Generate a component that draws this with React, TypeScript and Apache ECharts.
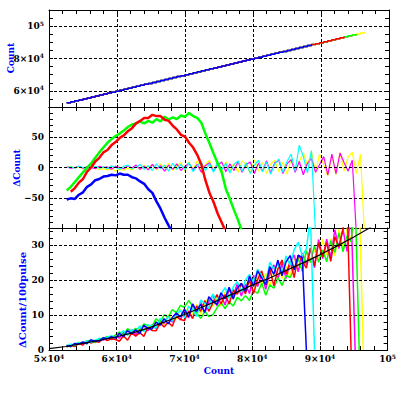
import React, { useEffect, useRef } from 'react';
import * as echarts from 'echarts';

// Shared Count sampling (x) used by all coloured runs
const xGrid = [
  52600, 53200, 53800, 54400, 55000, 55600, 56200, 56800, 57400, 58000,
  58600, 59200, 59800, 60400, 61000, 61600, 62200, 62800, 63400, 64000,
  64600, 65200, 65800, 66400, 67000, 67600, 68200, 68800, 69400, 70000,
  70600, 71200, 71800, 72400, 73000, 73600, 74200, 74800, 75400, 76000,
  76600, 77200, 77800, 78400, 79000, 79600, 80200, 80800, 81400, 82000,
  82600, 83200, 83800, 84400, 85000, 85600, 86200, 86800, 87400, 88000,
  88600, 89200, 89800, 90400, 91000, 91600, 92200, 92800, 93400, 94000,
  94600, 95200, 95800, 96400,
];

// Top panel: number of Count samples covered by each run
const topLenBlue = 61;
const topLenCyan = 61;
const topLenRed = 69;
const topLenMagenta = 71;
const topLenGreen = 72;
const topLenYellow = 74;

// Middle panel: ΔCount
const dBlue = [-53, -51, -52, -45, -41, -32, -28, -21, -19, -15, -14, -12, -13, -10, -12, -12, -16, -18, -23, -27, -36, -42, -56, -68, -83, -96, -108];
const dRed = [null, -40, -34, -25, -19, -7, 0, 10, 16, 25, 29, 37, 42, 49, 53, 60, 65, 73, 77, 82, 82, 87, 85, 85, 79, 77, 69, 63, 54, 51, 41, 33, 21, 5, -21, -42, -57, -76, -91, -106];
const dGreen = [-38, -32, -24, -16, -8, 0, 7, 16, 25, 33, 41, 47, 52, 56, 61, 67, 71, 73, 76, 73, 77, 74, 80, 76, 84, 79, 83, 80, 86, 84, 90, 85, 82, 74, 56, 40, 23, 7, -8, -35, -52, -70, -87, -106];
const dCyan = [
  0, 1, -1, 2, 0, -2, 1, 2, -1, 1,
  -2, 3, 0, -3, 2, 4, -2, 1, 5, -3,
  3, -5, 6, -2, 4, -6, 7, -3, 5, -4,
  8, -7, 3, 9, -5, 6, -8, 10, -4, 7,
  -9, 5, 11, -6, 8, -10, 4, 12, -7, 9,
  -11, 6, 14, -8, 10, 22, -6, 37, 18, -9,
  28, -110,
];
const dMagenta = [
  1, -1, 0, 2, -1, 1, 0, -2, 2, 0,
  1, -3, 2, 0, -2, 3, -1, 4, -3, 2,
  -4, 5, -2, 3, -6, 4, -3, 6, -5, 2,
  7, -4, 5, -8, 3, 8, -6, 4, 9, -7,
  6, -5, 10, -8, 5, 9, -10, 7, -6, 11,
  -9, 8, 12, -10, 6, 13, -8, 10, -12, 7,
  15, -8, 5, 18, -12, 22, -10, 24, 8, -6,
  12, -110,
];
const dYellow = [
  0, 2, -1, 1, -2, 0, 3, -1, -3, -2,
  -4, -2, -6, -3, -5, -1, -4, 2, -3, 4,
  -2, 5, -4, 6, -1, 7, -5, 3, 8, -6,
  9, -3, 11, -7, 5, 12, -4, 8, -9, 10,
  -5, 7, -8, 11, 4, -9, 13, -6, 8, -10,
  6, 12, -7, 9, -11, 14, -5, 10, 25, 3,
  26, -8, 22, 5, -14, 20, -12, 24, -6, 18,
  25, -10, 22, -110,
];

// Bottom panel: ΔCount/100pulse
const bBlue = [
  1.3, 1.0, 1.9, 1.7, 2.3, 1.8, 2.9, 2.6, 2.6, 3.5, 3.2, 3.8, 3.4,
  4.8, 3.8, 5.6, 4.7, 5.8, 4.7, 7.1, 6.2, 6.0, 8.0, 7.1, 9.0, 7.5, 9.3, 10.6, 9.5,
  11.7, 9.5, 13.2, 11.1, 13.1, 10.8, 15.3, 13.9, 13.1, 16.4, 14.7, 18.0, 14.6, 17.8, 19.1, 16.8,
  21.2, 18.2, 22.7, 20.7, 18.7, 23.9, 21.7, 25.8, 21.3, 25.3, 27.1, 23.0, 27.2, 26.5,
  0,
];
const bRed = [
  0.8, 1.5, 1.0, 1.9, 1.4, 2.7, 2.0, 2.5, 2.2, 3.4, 2.7, 3.2, 3.0,
  2.5, 4.1, 2.8, 4.9, 4.0, 5.0, 3.9, 6.5, 5.6, 5.5, 7.7, 6.6, 8.0, 6.8, 9.8, 8.8,
  8.4, 11.2, 9.0, 12.6, 11.1, 14.2, 11.1, 13.6, 15.9, 13.2, 15.9, 13.2, 17.3, 16.0, 19.1, 16.1,
  20.2, 16.2, 20.2, 22.7, 18.7, 23.2, 18.4, 23.3, 25.8, 21.8, 25.3, 20.8, 27.2, 25.5, 23.5, 29.3,
  24.1, 30.7, 26.7, 30.8, 25.4, 32.5, 29.6, 34.7, 43,
  0,
];
const bGreen = [
  1.4, 0.9, 1.6, 2.2, 1.7, 2.4, 2.9, 2.1, 3.3, 3.2, 3.9, 3.1, 4.3,
  5.2, 4.3, 6.1, 5.3, 6.2, 5.2, 7.5, 7.0, 6.8, 8.9, 8.1, 10.1, 9.4, 11.6, 10.7, 12.8,
  12.2, 14.2, 12.7, 10.6, 9.1, 11.1, 9.6,
  10.1, 12.1, 13.6, 11.9, 13.8, 12.6, 15.1, 14.1, 15.6,
  14.2, 17.2, 16.2, 19.2, 15.7, 18.7, 17.7, 20.8, 18.5, 21.3, 20.8, 23.3,
  26.4, 22.5, 28.5, 25.1, 30.1, 25.2, 28.7, 25.3, 31.4, 28.0, 33.6, 28.2, 32.8, 31.0,
  44, 0,
];
const bCyan = [
  1.2, 1.7, 1.3, 2.1, 1.9, 2.7, 2.1, 2.8, 3.3, 2.9, 3.6, 4.1, 3.7,
  4.5, 5.5, 4.2, 5.8, 5.4, 6.9, 5.3, 7.2, 6.9, 6.3, 9.0, 8.1, 9.5, 8.3, 10.1, 11.4,
  9.2, 12.5, 11.7, 9.6, 14.3, 13.4, 11.9, 16.1, 13.8, 16.1, 17.9, 14.8, 18.1, 19.6, 16.6, 20.0,
  21.7, 19.2, 23.2, 21.2, 19.2, 25.2, 23.2, 24.8, 21.8, 27.0, 24.3, 28.8, 30.9, 27.0, 29.0, 38,
  0,
];
const bMagenta = [
  1.0, 1.5, 1.1, 1.9, 1.5, 2.6, 2.3, 2.2, 3.2, 2.8, 3.5, 3.0, 3.9,
  3.4, 5.1, 4.4, 5.9, 4.3, 5.9, 7.1, 5.5, 7.2, 6.1, 8.4, 7.6, 9.7, 8.0, 9.8, 8.6,
  11.4, 9.2, 13.2, 10.8, 13.7, 10.6, 13.8, 15.8, 12.7, 15.6, 12.9, 17.4, 15.5, 19.0, 15.5, 18.8,
  16.2, 21.5, 18.2, 21.7, 17.4, 22.2, 24.4, 20.3, 24.8, 20.6, 25.1, 27.3, 22.4, 27.8, 24.5, 29.1,
  23.6, 31.7, 26.2, 31.8, 26.4, 34.5, 29.1, 34.7, 28.3, 40,
  0,
];
const bYellow = [
  1.1, 1.0, 1.8, 1.6, 2.2, 1.8, 2.8, 2.6, 2.6, 3.4, 3.1, 3.7, 4.2,
  4.3, 3.6, 5.6, 5.1, 4.7, 6.6, 5.7, 6.9, 5.7, 8.3, 7.9, 7.3, 10.0, 9.0, 8.9, 11.6,
  9.7, 12.7, 10.2, 13.1, 10.3, 13.2, 15.1, 12.4, 15.1, 12.6, 16.7, 15.9, 14.6, 18.8, 16.3, 19.0,
  19.2, 16.5, 21.7, 18.7, 22.0, 18.2, 22.0, 24.8, 20.5, 24.0, 20.8, 26.6, 24.6, 23.0, 28.5, 25.6,
  29.1, 25.2, 31.7, 27.3, 31.9, 27.0, 34.6, 29.2, 34.8, 31.5, 37.6, 43,
  0,
];
const fitX = [50000, 52500, 55000, 57500, 60000, 62500, 65000, 67500, 70000, 72500, 75000, 77500, 80000, 82500, 85000, 87500, 90000, 92500, 95000, 97500];
const fitY = [0.4, 1.0, 1.9, 2.8, 3.8, 5.0, 6.5, 8.4, 10.2, 12.2, 14.3, 16.4, 18.6, 20.6, 22.8, 25.0, 27.3, 29.8, 32.4, 35.2];

// Axis ticks / grid lines
const xMajor = [60000, 70000, 80000, 90000];
const yTopMajor = [60000, 80000, 100000];
const yMidMajor = [-50, 0, 50];
const yBotMajor = [10, 20, 30];

const BLUE = '#0000ff';
const RED = '#ff0000';
const GREEN = '#00ff00';
const CYAN = '#00ffff';
const MAGENTA = '#ff00ff';
const YELLOW = '#ffff00';
const FONT = '"DejaVu Serif"';

const rich = {
  a: { fontSize: 9, fontFamily: FONT, fontWeight: 'bold', color: '#000', lineHeight: 12 },
  s: { fontSize: 6, fontFamily: FONT, fontWeight: 'bold', color: '#000', verticalAlign: 'top' },
};

function sciLabel(v: number) {
  if (v === 100000) return '{a|10}{s|5}';
  return `{a|${v / 10000}×10}{s|4}`;
}

export default function App() {
  const ref = useRef<HTMLDivElement>(null);
  useEffect(() => {
    const chart = echarts.init(ref.current!, null, { renderer: 'svg' });
    const grids = [
      { left: 49, right: 10, top: 10, height: 97 },
      { left: 49, right: 10, top: 107, height: 121 },
      { left: 49, right: 10, top: 228, height: 122 },
    ];
    const axisLine = { show: true, onZero: false, lineStyle: { color: '#000', width: 1 } };
    const axisTick = { show: true, inside: true, length: 4, lineStyle: { color: '#000', width: 1 } };

    const xAxes: any[] = [];
    grids.forEach((_, gi) => {
      ['bottom', 'top'].forEach((pos) => {
        const showLabel = gi === 2 && pos === 'bottom';
        xAxes.push({
          type: 'value', gridIndex: gi, position: pos, min: 50000, max: 100000, interval: 2000,
          axisLine, axisTick, splitLine: { show: false },
          axisLabel: {
            show: showLabel, margin: 3, rich,
            formatter: (v: number) => (v % 10000 === 0 ? sciLabel(v) : ''),
          },
        });
      });
    });

    const yDefs = [
      { min: 50000, max: 110000, interval: 5000, fmt: (v: number) => (yTopMajor.includes(v) ? sciLabel(v) : '') },
      { min: -100, max: 100, interval: 10, fmt: (v: number) => (yMidMajor.includes(v) ? `{a|${v < 0 ? '\u2212' + -v : v}}` : '') },
      { min: 0, max: 35, interval: 2, fmt: (v: number) => (v === 0 || yBotMajor.includes(v) ? `{a|${v}}` : '') },
    ];
    const yAxes: any[] = [];
    yDefs.forEach((d, gi) => {
      ['left', 'right'].forEach((pos) => {
        yAxes.push({
          type: 'value', gridIndex: gi, position: pos, min: d.min, max: d.max, interval: d.interval,
          axisLine, axisTick, splitLine: { show: false },
          axisLabel: { show: pos === 'left', margin: 5, rich, formatter: d.fmt },
        });
      });
    });

    const gridLineSeries = (gi: number, yl: number[]) => ({
      type: 'line', xAxisIndex: gi * 2, yAxisIndex: gi * 2, data: [], z: 1, silent: true,
      markLine: {
        silent: true, symbol: ['none', 'none'], label: { show: false }, animation: false,
        lineStyle: { color: '#000', type: [3, 2], width: 1 },
        emphasis: { disabled: true },
        data: [...xMajor.map((v) => ({ xAxis: v })), ...yl.map((v) => ({ yAxis: v }))],
      },
    });

    const line = (xs: number[], ys: (number | null)[], gi: number, color: string, width: number, z: number, step?: any) => ({
      type: 'line', xAxisIndex: gi * 2, yAxisIndex: gi * 2,
      data: ys.map((y, i) => [xs[i], y]),
      symbol: 'none', showSymbol: false, step: step || false,
      lineStyle: { color, width }, itemStyle: { color }, z, silent: true,
    });
    const topRun = (n: number, color: string, z: number) =>
      line(xGrid.slice(0, n), xGrid.slice(0, n), 0, color, 1.5, z, 'end');

    const series: any[] = [
      gridLineSeries(0, yTopMajor),
      gridLineSeries(1, yMidMajor),
      gridLineSeries(2, yBotMajor),
      // top
      topRun(topLenYellow, YELLOW, 2),
      topRun(topLenMagenta, MAGENTA, 3),
      topRun(topLenGreen, GREEN, 4),
      topRun(topLenCyan, CYAN, 5),
      topRun(topLenRed, RED, 6),
      topRun(topLenBlue, BLUE, 7),
      // middle
      line(xGrid, dYellow, 1, YELLOW, 1.2, 2),
      line(xGrid, dMagenta, 1, MAGENTA, 1.2, 3),
      line(xGrid, dCyan, 1, CYAN, 1.2, 4),
      line(xGrid, dBlue, 1, BLUE, 2.5, 5),
      line(xGrid, dGreen, 1, GREEN, 2.5, 6),
      line(xGrid, dRed, 1, RED, 2.5, 7),
      // bottom
      line(xGrid, bYellow, 2, YELLOW, 1.5, 2),
      line(xGrid, bMagenta, 2, MAGENTA, 1.5, 3),
      line(xGrid, bGreen, 2, GREEN, 1.5, 4),
      line(xGrid, bRed, 2, RED, 1.5, 5),
      line(xGrid, bCyan, 2, CYAN, 1.5, 6),
      line(xGrid, bBlue, 2, BLUE, 1.5, 7),
      line(fitX, fitY, 2, '#000', 1.2, 8),
    ];

    const title = (text: string, x: number, y: number, size: number, rot: boolean) => ({
      type: 'text', x, y, rotation: rot ? Math.PI / 2 : 0, silent: true,
      style: { text, fill: BLUE, fontSize: size, fontWeight: 'bold', fontFamily: FONT, align: 'center', verticalAlign: 'middle' },
    });

    chart.setOption({
      animation: false,
      backgroundColor: '#fff',
      grid: grids,
      xAxis: xAxes,
      yAxis: yAxes,
      series,
      graphic: [
        title('Count', 11, 58, 9, true),
        title('\u0394Count', 17, 168, 9, true),
        title('\u0394Count/100pulse', 22, 300, 10, true),
        title('Count', 219, 371, 9, false),
      ],
    });
    return () => chart.dispose();
  }, []);
  return <div ref={ref} style={{ position: 'absolute', left: 0, top: 0, width: 399, height: 399 }} />;
}
